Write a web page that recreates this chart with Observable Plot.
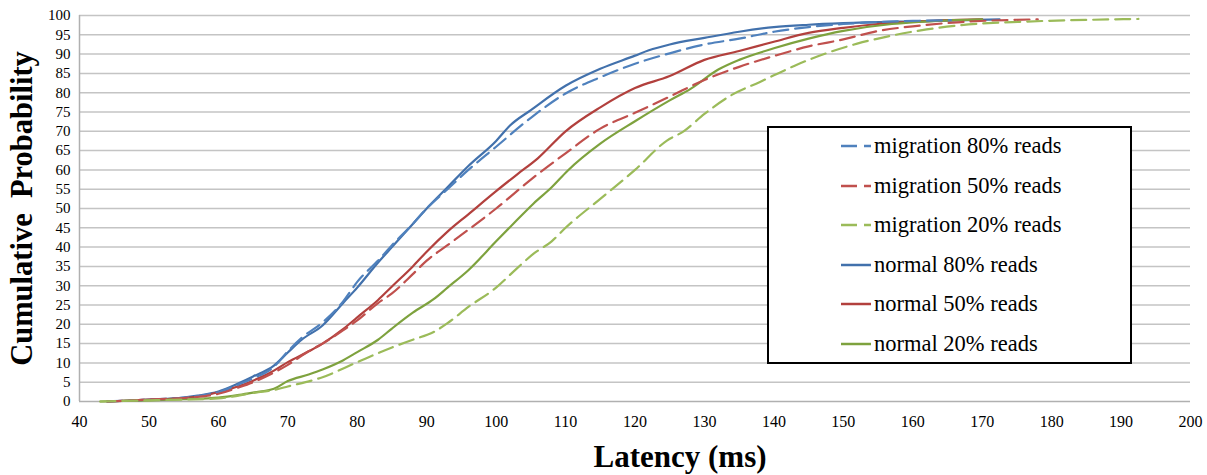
<!DOCTYPE html>
<html>
<head>
<meta charset="utf-8">
<script src="https://cdn.jsdelivr.net/npm/d3@7"></script>
<script src="https://cdn.jsdelivr.net/npm/@observablehq/plot@0.6"></script>
<style>
  body { margin: 0; background: #fff; }
  #wrap { position: relative; width: 1207px; height: 475px; }
  #legend { position: absolute; left: 767px; top: 126px; width: 361px; height: 234px;
    border: 2px solid #000; background: #fff; font-family: "Liberation Serif", serif; font-size: 22.5px; }
  #legend .row { position: absolute; left: 72px; height: 26px; display: flex; align-items: center; white-space: nowrap; }
  #legend svg { margin-right: 3px; }
</style>
</head>
<body>
<div id="wrap"></div>
<script>
// ---- data (latency ms, cumulative probability %) ----
const seriesNames = ["migration 80% reads", "migration 50% reads", "migration 20% reads",
                     "normal 80% reads", "normal 50% reads", "normal 20% reads"];

const m80_ms = [44, 50, 55, 57, 60, 63, 65, 68, 70, 72, 75, 78, 80, 83, 85, 88, 90, 93, 96, 100, 105, 110, 115, 120, 125, 130, 135, 140, 145, 150, 155, 160, 165.5];
const m80_p  = [0, 0.5, 1, 1.4, 2.4, 4.5, 6, 9, 13, 16.5, 20.5, 26, 31, 36.5, 40.5, 46, 50, 55, 60, 66, 73.5, 79.8, 84, 87.5, 90.2, 92.5, 94, 95.8, 97, 97.8, 98.3, 98.6, 98.8];

const m50_ms = [44, 50, 55, 57, 60, 63, 65, 68, 70, 73, 75, 78, 80, 83, 85, 88, 90, 93, 96, 100, 105, 110, 115, 120, 125, 130, 135, 140, 145, 150, 155, 160, 167, 178];
const m50_p  = [0, 0.5, 0.9, 1.2, 2, 3.7, 5, 7.5, 9.5, 13, 15, 18.5, 21, 25.5, 28, 33, 36.5, 40.5, 44.5, 50, 57.5, 64.3, 70.7, 74.8, 79, 83.3, 86.7, 89.5, 92, 93.8, 96, 97.2, 98.3, 99];

const m20_ms = [43, 50, 55, 60, 65, 68, 70, 75, 80, 85, 88, 91, 93, 96, 100, 103, 105.4, 108, 110, 115, 120, 124.6, 127, 130, 134, 138, 140, 143, 148, 152, 157, 162, 167, 176, 186, 192.5];
const m20_p  = [0, 0.3, 0.5, 0.8, 2.2, 3, 3.9, 6.3, 10.2, 14, 16, 18, 20.3, 24.5, 29.5, 34.5, 38.3, 41.5, 45, 52.5, 60, 67.6, 70, 74.5, 79.5, 82.8, 84.5, 87, 90.5, 92.7, 94.8, 96.4, 97.5, 98.4, 98.9, 99.1];

const n80_ms = [44, 50, 55, 57, 60, 63, 65, 68, 70, 72, 75, 78, 80, 83, 85, 88, 90, 93, 96, 100, 102, 105, 110, 115, 120, 122, 125, 130, 135, 140, 145, 150, 160, 172.5];
const n80_p  = [0, 0.5, 1, 1.5, 2.6, 4.8, 6.5, 9.3, 12.7, 16, 19.7, 25.6, 29.5, 36, 40, 46, 50, 55.5, 61, 67.5, 71.5, 75.5, 81.8, 86.2, 89.6, 91, 92.5, 94.2, 95.8, 97, 97.6, 98, 98.5, 99];

const n50_ms = [44, 50, 55, 57, 60, 63, 65, 68, 70, 73, 75, 78, 80, 83, 85, 88, 90, 93, 96, 100, 103, 106, 110, 115, 120, 125, 130, 135, 140, 145, 150, 155, 160, 170];
const n50_p  = [0, 0.5, 0.9, 1.3, 2.4, 4, 5.4, 8, 10.2, 13, 15, 18.8, 21.8, 26.3, 29.8, 35, 38.8, 44, 48.5, 54.5, 58.8, 63, 70, 76.2, 81.2, 84.3, 88.5, 90.8, 93.2, 95.5, 96.8, 97.8, 98.4, 99];

const n20_ms = [43, 50, 55, 60, 63, 65, 68, 70, 73, 75, 78, 80, 83, 85, 88, 91, 93, 96, 100, 103, 105.4, 108, 110.3, 115, 120, 125, 128, 132, 135, 140, 145, 150, 157, 170];
const n20_p  = [0, 0.3, 0.6, 1, 1.7, 2.3, 3.3, 5.3, 7, 8.3, 10.7, 12.8, 16, 18.9, 23, 26.5, 29.5, 34, 41.5, 47, 51.3, 55.5, 59.8, 66.8, 72.6, 78, 81, 86, 88.5, 91.5, 94, 96, 97.8, 99];

const xTicks = [40, 50, 60, 70, 80, 90, 100, 110, 120, 130, 140, 150, 160, 170, 180, 190, 200];
const yTicks = [0, 5, 10, 15, 20, 25, 30, 35, 40, 45, 50, 55, 60, 65, 70, 75, 80, 85, 90, 95, 100];

// ---- build ----
const seriesMs = [m80_ms, m50_ms, m20_ms, n80_ms, n50_ms, n20_ms];
const seriesP  = [m80_p, m50_p, m20_p, n80_p, n50_p, n20_p];
const colors = ["#4F81BD", "#C0504D", "#9BBB59", "#4271AC", "#B2403D", "#7EA23E"];
const dashed = [true, true, true, false, false, false];
const dash = "15,7";

const lineMarks = [];
const order = [3, 4, 5, 0, 1, 2];
for (const i of order) {
  const data = seriesMs[i].map((x, k) => ({x, y: seriesP[i][k]}));
  lineMarks.push(Plot.line(data, {
    x: "x", y: "y", stroke: colors[i], strokeWidth: 2.2,
    strokeDasharray: dashed[i] ? dash : null, curve: "monotone-x"
  }));
}

const FONT = "'Liberation Serif', 'Times New Roman', serif";

const chart = Plot.plot({
  width: 1207, height: 475,
  marginLeft: 79, marginRight: 17, marginTop: 15, marginBottom: 74,
  style: {fontFamily: FONT, fontSize: "15px", color: "#000", background: "#fff"},
  x: {domain: [40, 200]},
  y: {domain: [0, 100]},
  marks: [
    Plot.ruleY(yTicks.filter(d => d > 0), {stroke: "#c4c4c4", strokeWidth: 1.5}),
    Plot.ruleY([0], {stroke: "#b0b0b0", strokeWidth: 1.5}),
    Plot.ruleX([40], {stroke: "#b0b0b0", strokeWidth: 1.5}),
    Plot.axisY({ticks: yTicks, tickSize: 0, tickPadding: 9, label: null, fontSize: 15, fontFamily: FONT}),
    Plot.axisX({ticks: xTicks, tickSize: 0, tickPadding: 14, label: null, fontSize: 16, fontFamily: FONT}),
    ...lineMarks,
    Plot.text(["Latency (ms)"], {frameAnchor: "bottom", dx: 45, dy: 65, fontSize: 31, fontWeight: "bold", fill: "#000", fontFamily: FONT}),
    Plot.text(["Cumulative  Probability"], {frameAnchor: "left", textAnchor: "middle", dx: -57, rotate: -90, fontSize: 30.5, fontWeight: "bold", fill: "#000", fontFamily: FONT})
  ]
});
document.getElementById("wrap").appendChild(chart);

// ---- legend ----
const legend = document.createElement("div");
legend.id = "legend";
const rowY = [5, 45, 84, 124, 163, 203];
seriesNames.forEach((name, i) => {
  const row = document.createElement("div");
  row.className = "row";
  row.style.top = rowY[i] + "px";
  row.innerHTML = `<svg width="30" height="6"><line x1="0" y1="3" x2="30" y2="3" stroke="${colors[i]}" stroke-width="2.5" ${dashed[i] ? 'stroke-dasharray="16,7"' : ''}/></svg><span>${name}</span>`;
  legend.appendChild(row);
});
document.getElementById("wrap").appendChild(legend);
</script>
</body>
</html>
